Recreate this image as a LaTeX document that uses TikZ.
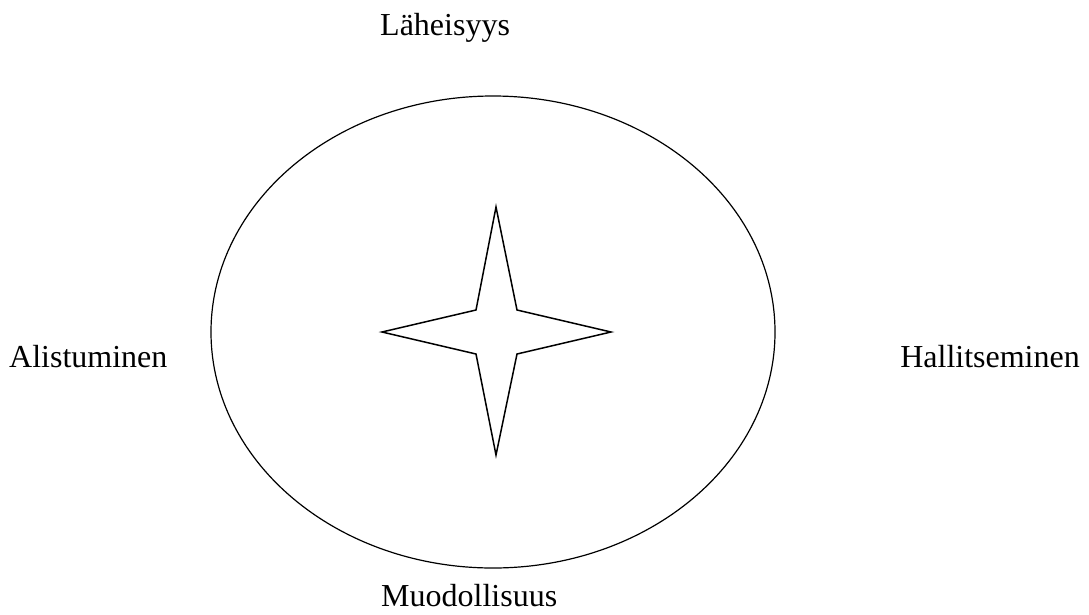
\documentclass[tikz,border=0pt]{standalone}
\usepackage{fontspec}
\setmainfont{Liberation Serif}
\usetikzlibrary{positioning}

\begin{document}
\begin{tikzpicture}[
  x=1pt, y=-1pt,
  label/.style={inner sep=0pt, font=\fontsize{32}{38}\selectfont},
  rim/.style={draw, line width=1.2pt},
  spark/.style={draw, line width=1.5pt, line join=miter}
]
  \useasboundingbox (0,0) rectangle (1089,614);

  \draw[rim] (493,332) ellipse [x radius=282, y radius=236];

  % four-pointed star in the middle
  \draw[spark] (496,207) -- (517,310) -- (611,332) -- (517,354)
    -- (496,455) -- (476,354) -- (382,332) -- (476,310) -- cycle;

  \node[label, anchor=base west] (near) at (380,35) {Läheisyys};
  \node[label, anchor=base west] (submit) at (9,367) {Alistuminen};
  \node[label, anchor=base east] (rule) at (1080,367) {Hallitseminen};
  \node[label, anchor=base west] (formal) at (381,606) {Muodollisuus};
\end{tikzpicture}
\end{document}
